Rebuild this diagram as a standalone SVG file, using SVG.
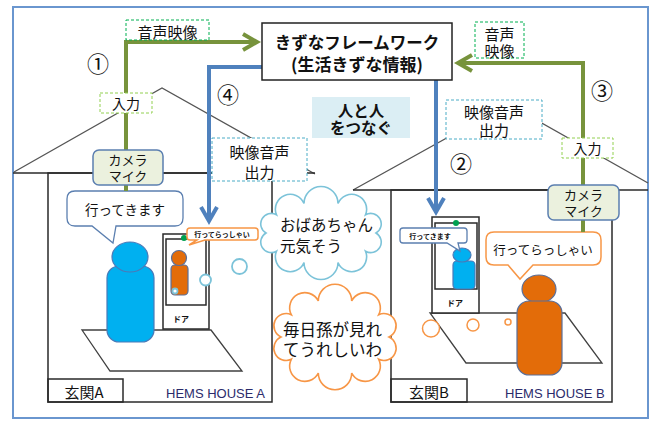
<svg xmlns="http://www.w3.org/2000/svg" width="652" height="421" viewBox="0 0 652 421">
  <style>
    .jp { font-family: "Noto Sans CJK JP", "Noto Sans", sans-serif; fill: #111; }
    .c { text-anchor: middle; dominant-baseline: central; }
    .l { dominant-baseline: central; }
    .wall { fill: none; stroke: #2a2a2a; stroke-width: 1.5; }
    .roof { fill: none; stroke: #555; stroke-width: 1.3; }
    .floor { fill: none; stroke: #404040; stroke-width: 1.3; }
    .door { fill: #fff; stroke: #2a2a2a; stroke-width: 1.5; }
    .green { fill: none; stroke: #77933c; stroke-width: 4; }
    .blue { fill: none; stroke: #4f81bd; stroke-width: 4; }
    .dash-g { fill: #fff; stroke: #00b050; stroke-width: 1; stroke-dasharray: 3 2; }
    .dash-lg { fill: #fff; stroke: #92d050; stroke-width: 1; stroke-dasharray: 3 2; }
    .dash-b { fill: #fff; stroke: #4bacc6; stroke-width: 1; stroke-dasharray: 3 2; }
    .cam { fill: #ebf1de; stroke: #5b7fb0; stroke-width: 1.5; }
    .bubble-b { fill: #fff; stroke: #5b7fb0; stroke-width: 1.3; }
    .bubble-o { fill: #fff; stroke: #f79646; stroke-width: 1.5; }
    .pblue { fill: #00b0f0; stroke: #4a7ab8; stroke-width: 1.2; }
    .porange { fill: #e36c09; stroke: #5a6f9a; stroke-width: 1.2; }
    .think-b { fill: #fff; stroke: #7cc3d9; stroke-width: 1.8; }
    .think-o { fill: #fff; stroke: #f79646; stroke-width: 1.5; }
    .hems { font-family: "Liberation Sans", Arial, sans-serif; font-size: 13px; fill: #2b2b6b; }
    .num { font-family: "Noto Sans CJK JP", "DejaVu Sans", sans-serif; font-size: 22px; fill: #111; text-anchor: middle; dominant-baseline: central; }
  </style>

  <!-- outer frame -->
  <rect x="13" y="7" width="635" height="411" fill="#fff" stroke="#6a96cf" stroke-width="2"/>

  <!-- house A -->
  <g id="house-a">
    <polyline class="roof" points="14,172 162,88 315,174"/>
    <line class="wall" x1="13" y1="173" x2="315" y2="173"/>
    <rect class="wall" x="48" y="173" width="224" height="229"/>
    <rect class="wall" x="48" y="379" width="75" height="23"/>
    <text class="jp c" x="84" y="391" font-size="15">玄関A</text>
    <text class="hems" x="166" y="398">HEMS HOUSE A</text>
    <polygon class="floor" points="82,330 211,330 242,371 110,371"/>
  </g>

  <!-- house B -->
  <g id="house-b">
    <polyline class="roof" points="353,190 508,104 648,183"/>
    <line class="wall" x1="353" y1="190" x2="648" y2="190"/>
    <rect class="wall" x="391" y="190" width="221" height="212"/>
    <rect class="wall" x="391" y="379" width="76" height="23"/>
    <text class="jp c" x="429" y="391" font-size="15">玄関B</text>
    <text class="hems" x="505" y="398">HEMS HOUSE B</text>
    <polygon class="floor" points="430,313 565,313 602,363 466,363"/>
  </g>

  <!-- door monitor in house A -->
  <g id="door-a">
    <rect class="door" x="163" y="234" width="46" height="95"/>
    <rect class="door" x="166" y="239" width="40" height="66"/>
    <circle cx="184" cy="238" r="3" fill="#00a050"/>
    <rect class="porange" x="171" y="265" width="17" height="30" rx="4"/>
    <circle class="porange" cx="179" cy="258" r="7.5"/>
    <text class="jp c" x="181" y="318" font-size="8" font-weight="700">ドア</text>
  </g>

  <!-- door monitor in house B -->
  <g id="door-b">
    <rect class="door" x="432" y="217" width="47" height="96"/>
    <rect class="door" x="435" y="223" width="42" height="66"/>
    <circle cx="456" cy="223" r="3" fill="#00a050"/>
    <rect class="pblue" x="453" y="261" width="22" height="28" rx="4"/>
    <ellipse class="pblue" cx="462" cy="255" rx="9" ry="7"/>
    <text class="jp c" x="455" y="302" font-size="8" font-weight="700">ドア</text>
  </g>

  <!-- people -->
  <g id="person-a">
    <rect class="pblue" x="107" y="266" width="47" height="76" rx="12"/>
    <ellipse class="pblue" cx="130" cy="257" rx="18" ry="15"/>
  </g>
  <g id="person-b">
    <ellipse class="porange" cx="539" cy="289" rx="17" ry="14"/>
    <rect class="porange" x="517" y="301" width="45" height="74" rx="12"/>
  </g>

  <!-- speech bubbles -->
  <g id="say-a">
    <path class="bubble-b" d="M75,191 H175 Q183,191 183,199 V218 Q183,226 175,226 H116 L113,243 L92,226 H75 Q67,226 67,218 V199 Q67,191 75,191 Z"/>
    <text class="jp c" x="125" y="209" font-size="13.5">行ってきます</text>
  </g>
  <g id="say-b">
    <path class="bubble-o" d="M494,232 H593 Q601,232 601,240 V257 Q601,265 593,265 H533 L520,279 L508,265 H494 Q486,265 486,257 V240 Q486,232 494,232 Z"/>
    <text class="jp c" x="543" y="249" font-size="12.5">行ってらっしゃい</text>
  </g>
  <g id="say-a-small">
    <path class="bubble-o" stroke-width="1.2" d="M190,228 H255 Q258,228 258,231 V237 Q258,240 255,240 H205 L189,245 L197,240 H190 Q187,240 187,237 V231 Q187,228 190,228 Z"/>
    <text class="jp c" x="222" y="234" font-size="7" font-weight="700">行ってらっしゃい</text>
  </g>
  <g id="say-b-small">
    <path class="bubble-b" stroke-width="1.2" d="M403,228 H464 Q467,228 467,231 V240 Q467,243 464,243 H458 L460,251 L447,243 H403 Q400,243 400,240 V231 Q400,228 403,228 Z"/>
    <text class="jp c" x="430" y="235.5" font-size="7" font-weight="700">行ってきます</text>
  </g>

  <!-- thought trails -->
  <circle class="think-b" cx="239.5" cy="266.5" r="7.5"/>
  <circle class="think-b" cx="205.5" cy="280" r="5.5"/>
  <circle class="think-b" stroke-width="1.2" cx="175" cy="291" r="2.5"/>
  <circle class="think-o" cx="431" cy="328.5" r="8.5"/>
  <circle class="think-o" cx="473" cy="325" r="6"/>
  <circle class="think-o" cx="508" cy="322" r="3"/>

  <!-- thought clouds -->
  <g id="cloud-grandma">
    <path fill="#fff" stroke="#7cc3d9" stroke-width="1.6" transform="translate(-3,0)" d="M379,233 A1,1 0 0 1 368.5,251.2 A1,1 0 0 1 341,262.5 A1,1 0 0 1 307,262.5 A1,1 0 0 1 279.5,251.2 A1,1 0 0 1 269,233 A1,1 0 0 1 279.5,214.8 A1,1 0 0 1 307,203.5 A1,1 0 0 1 341,203.5 A1,1 0 0 1 368.5,214.8 A1,1 0 0 1 379,233 Z"/>
    <text class="jp l" font-size="15.5"><tspan x="280" y="223.5">おばあちゃん</tspan><tspan x="280" y="245">元気そう</tspan></text>
  </g>
  <g id="cloud-grandchild">
    <path fill="#fff" stroke="#f79646" stroke-width="1.6" d="M389,337 A1,1 0 0 1 378.7,359.3 A1,1 0 0 1 351.7,373.1 A1,1 0 0 1 318.3,373.1 A1,1 0 0 1 291.3,359.3 A1,1 0 0 1 281,337 A1,1 0 0 1 291.3,314.7 A1,1 0 0 1 318.3,300.9 A1,1 0 0 1 351.7,300.9 A1,1 0 0 1 378.7,314.7 A1,1 0 0 1 389,337 Z"/>
    <text class="jp l" font-size="16.5"><tspan x="283" y="329">毎日孫が見れ</tspan><tspan x="283" y="349">てうれしいわ</tspan></text>
  </g>

  <!-- connectors -->
  <g id="connectors">
    <path class="green" d="M126,191 V42 H256"/>
    <polyline class="green" points="243,34 257,42 243,50"/>
    <path class="blue" d="M262,67 H209 V219"/>
    <polyline class="blue" points="201,207 209,221 217,207"/>
    <path class="blue" d="M436,80 V210"/>
    <polyline class="blue" points="428,198 436,212 444,198"/>
    <path class="green" d="M583,232 V63 H460"/>
    <polyline class="green" points="472,55 458,63 472,71"/>
  </g>

  <!-- connector labels -->
  <g id="label-av-up-a">
    <rect class="dash-g" x="126" y="20" width="83" height="20"/>
    <text class="jp c" x="167.5" y="31" font-size="15">音声映像</text>
  </g>
  <g id="label-in-a">
    <rect class="dash-lg" x="100" y="93" width="52" height="20"/>
    <text class="jp c" x="126" y="103" font-size="14">入力</text>
  </g>
  <g id="label-out-a">
    <rect class="dash-b" x="212" y="138" width="95" height="43"/>
    <text class="jp c" font-size="15"><tspan x="259.5" y="151">映像音声</tspan><tspan x="259.5" y="171">出力</tspan></text>
  </g>
  <g id="label-out-b">
    <rect class="dash-b" x="446" y="100" width="96" height="39"/>
    <text class="jp c" font-size="15"><tspan x="494" y="111">映像音声</tspan><tspan x="494" y="129">出力</tspan></text>
  </g>
  <g id="label-av-up-b">
    <rect class="dash-g" x="475" y="22" width="49" height="36"/>
    <text class="jp c" font-size="15"><tspan x="499.5" y="32.5">音声</tspan><tspan x="499.5" y="50">映像</tspan></text>
  </g>
  <g id="label-in-b">
    <rect class="dash-lg" x="562" y="138" width="51" height="20"/>
    <text class="jp c" x="587.5" y="148" font-size="14">入力</text>
  </g>

  <!-- step numbers -->
  <text class="num" x="98" y="62">①</text>
  <text class="num" x="461" y="162">②</text>
  <text class="num" x="602" y="89">③</text>
  <text class="num" x="228" y="93">④</text>

  <!-- camera / microphone units -->
  <g id="camera-a">
    <rect class="cam" x="93" y="150" width="70" height="35" rx="6"/>
    <text class="jp c" font-size="13"><tspan x="128" y="159">カメラ</tspan><tspan x="128" y="175">マイク</tspan></text>
  </g>
  <g id="camera-b">
    <rect class="cam" x="548" y="185" width="71" height="35" rx="6"/>
    <text class="jp c" font-size="13"><tspan x="583.5" y="194">カメラ</tspan><tspan x="583.5" y="210">マイク</tspan></text>
  </g>

  <!-- central framework -->
  <g id="framework">
    <rect x="262" y="23" width="190" height="57" fill="#fff" stroke="#222" stroke-width="1.5"/>
    <text class="jp c" font-weight="700"><tspan x="357" y="42" font-size="16.5">きずなフレームワーク</tspan><tspan x="357" y="63" font-size="17">(生活きずな情報)</tspan></text>
  </g>

  <!-- tagline -->
  <g id="tagline">
    <rect x="312" y="97" width="98" height="41" fill="#dbeef4"/>
    <text class="jp c" font-size="15.5" font-weight="700"><tspan x="361" y="110">人と人</tspan><tspan x="361" y="127">をつなぐ</tspan></text>
  </g>
</svg>
